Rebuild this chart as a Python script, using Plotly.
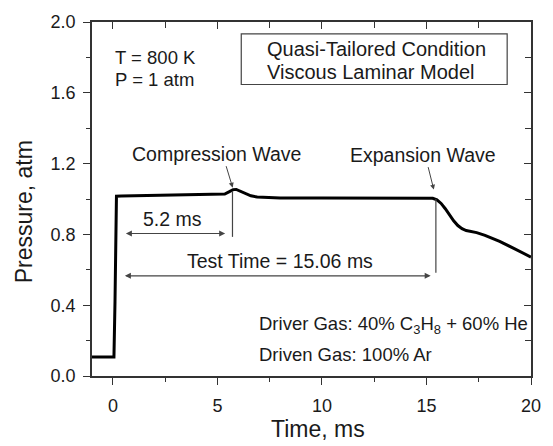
import plotly.graph_objects as go

# ---- data ----
time_ms = [-1.0, 0.05, 0.10, 0.17, 0.4, 1.0, 2.0, 3.0, 4.0, 5.0, 5.35, 5.55, 5.75, 5.9, 6.1, 6.35, 6.6, 6.9, 7.3, 8.0,
           10.0, 12.0, 14.0, 15.0, 15.3, 15.5, 15.7, 15.9, 16.1, 16.3, 16.5, 16.7, 16.9, 17.1, 17.4, 17.8, 18.5,
           19.2, 20.0]
pressure_atm = [0.108, 0.108, 0.42, 1.016, 1.017, 1.018, 1.020, 1.022, 1.024, 1.026, 1.028, 1.040, 1.053, 1.054,
                1.045, 1.030, 1.018, 1.011, 1.008, 1.006, 1.005, 1.005, 1.006, 1.006, 1.004, 0.995, 0.975, 0.945,
                0.910, 0.877, 0.850, 0.832, 0.822, 0.818, 0.810, 0.795, 0.760, 0.720, 0.672]

x_ticks = [0, 5, 10, 15, 20]
y_ticks = [0.0, 0.4, 0.8, 1.2, 1.6, 2.0]
y_tick_labels = ["0.0", "0.4", "0.8", "1.2", "1.6", "2.0"]

FONT = "Liberation Sans, Arial, sans-serif"
TXT = "#1a1a1a"
AX = "#333333"
GRAY = "#444444"

fig = go.Figure()
fig.add_trace(go.Scatter(x=time_ms, y=pressure_atm, mode="lines",
                         line=dict(color="black", width=3), showlegend=False, hoverinfo="skip"))
# dummy trace for mirrored inner axes
fig.add_trace(go.Scatter(x=[None], y=[None], xaxis="x2", yaxis="y2", showlegend=False, hoverinfo="skip"))

common = dict(showgrid=False, zeroline=False, showline=True, linecolor=AX, linewidth=1.5,
              tickcolor=AX, tickwidth=1.2)
fig.update_layout(
    width=553, height=446,
    margin=dict(l=92, r=17, t=19, b=70),
    plot_bgcolor="white", paper_bgcolor="white",
    font=dict(family=FONT, size=18, color=TXT),
    xaxis=dict(range=[-1, 20], tickvals=x_ticks, ticks="outside", ticklen=7,
               ticklabelstandoff=6,
               minor=dict(dtick=2.5, tick0=0, ticks="outside", ticklen=4, tickcolor=AX, tickwidth=1.2),
               tickfont=dict(size=18, color=TXT, family=FONT), **common),
    yaxis=dict(range=[0, 2], tickvals=y_ticks, ticktext=y_tick_labels, ticks="outside", ticklen=7,
               ticklabelstandoff=4,
               minor=dict(dtick=0.2, tick0=0, ticks="outside", ticklen=4, tickcolor=AX, tickwidth=1.2),
               tickfont=dict(size=18, color=TXT, family=FONT), **common),
    xaxis2=dict(range=[-1, 20], overlaying="x", side="top", anchor="y", tickvals=x_ticks,
                ticks="inside", ticklen=7, showticklabels=False,
                minor=dict(dtick=2.5, tick0=0, ticks="inside", ticklen=6, tickcolor=AX, tickwidth=1.2),
                **common),
    yaxis2=dict(range=[0, 2], overlaying="y", side="right", anchor="x", tickvals=y_ticks,
                ticks="inside", ticklen=7, showticklabels=False,
                minor=dict(dtick=0.2, tick0=0, ticks="inside", ticklen=6, tickcolor=AX, tickwidth=1.2),
                **common),
)

# vertical marker lines
fig.add_shape(type="line", x0=5.72, x1=5.72, y0=0.786, y1=1.045, line=dict(color=GRAY, width=1.2))
fig.add_shape(type="line", x0=15.45, x1=15.45, y0=0.584, y1=1.0, line=dict(color=GRAY, width=1.2))
# legend-like box
fig.add_shape(type="rect", x0=6.14, x1=18.86, y0=1.647, y1=1.933, line=dict(color=GRAY, width=1.2))

ann = []
def text(x, y, s, xanchor="center", size=18, xref="x", yref="y", angle=0):
    ann.append(dict(x=x, y=y, xref=xref, yref=yref, text=s, showarrow=False, xanchor=xanchor,
                    yanchor="middle", textangle=angle, font=dict(size=size, color=TXT, family=FONT)))

text(0.0, 1.798, "T = 800 K", "left", 18.5)
text(0.0, 1.675, "P = 1 atm", "left", 18.5)
text(7.26, 1.849, "Quasi-Tailored Condition", "left", 20)
text(7.26, 1.72, "Viscous Laminar Model", "left", 20)
text(4.95, 1.253, "Compression Wave", size=19.5)
text(14.84, 1.25, "Expansion Wave", size=19.5)
text(2.86, 0.885, "5.2 ms", size=19.5)
text(7.97, 0.65, "Test Time = 15.06 ms", size=19.5)
text(6.89, 0.29, "Driver Gas: 40% C<sub>3</sub>H<sub>8</sub> + 60% He", "left", 18.5)
text(6.89, 0.123, "Driven Gas: 100% Ar", "left", 18.5)
text(0.514, -0.151, "Time, ms", size=23, xref="paper", yref="paper")
text(-0.155, 0.465, "Pressure, atm", size=23, xref="paper", yref="paper", angle=-90)

# pointer arrows
ann.append(dict(x=5.73, y=1.064, xref="x", yref="y", ax=-7, ay=-23, text="", showarrow=True,
                arrowhead=2, arrowsize=1, arrowwidth=1, arrowcolor=GRAY, standoff=0))
ann.append(dict(x=15.35, y=1.053, xref="x", yref="y", ax=-6, ay=-24, text="", showarrow=True,
                arrowhead=2, arrowsize=1, arrowwidth=1, arrowcolor=GRAY, standoff=0))
# double-headed span arrows
ann.append(dict(x=5.37, y=0.805, ax=0.55, ay=0.805, xref="x", yref="y", axref="x", ayref="y", text="",
                showarrow=True, arrowhead=2, startarrowhead=2, arrowside="end+start", arrowsize=1,
                arrowwidth=1.2, arrowcolor=GRAY, standoff=0, startstandoff=0))
ann.append(dict(x=15.2, y=0.566, ax=0.5, ay=0.566, xref="x", yref="y", axref="x", ayref="y", text="",
                showarrow=True, arrowhead=2, startarrowhead=2, arrowside="end+start", arrowsize=1,
                arrowwidth=1.2, arrowcolor=GRAY, standoff=0, startstandoff=0))
fig.update_layout(annotations=ann)

fig.write_html("out.html")
